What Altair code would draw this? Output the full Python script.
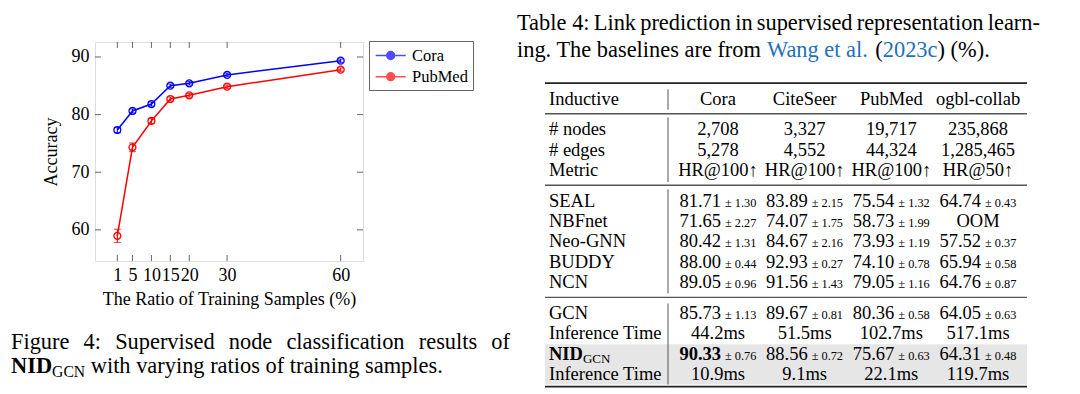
import altair as alt
import pandas as pd

# ------------------------------------------------------------------ data
ratios = [1, 5, 10, 15, 20, 30, 60]
series = ["Cora", "PubMed"]
cora_acc = [77.33, 80.63, 81.84, 85.02, 85.43, 86.88, 89.36]
cora_err = [0.45, 0.35, 0.35, 0.30, 0.30, 0.30, 0.30]
pubmed_acc = [58.96, 74.33, 78.90, 82.71, 83.35, 84.85, 87.80]
pubmed_err = [1.15, 0.75, 0.45, 0.35, 0.30, 0.30, 0.30]
x_ticks = [1, 5, 10, 15, 20, 30, 60]
y_ticks = [60, 70, 80, 90]
x_title = "The Ratio of Training Samples (%)"
y_title = "Accuracy"

table_head = "Inductive"
table_cols = ["Cora", "CiteSeer", "PubMed", "ogbl-collab"]
stat_rows = ["# nodes", "# edges", "Metric"]
stat_vals = [["2,708", "3,327", "19,717", "235,868"],
             ["5,278", "4,552", "44,324", "1,285,465"],
             ["HR@100↑", "HR@100↑", "HR@100↑", "HR@50↑"]]
base_rows = ["SEAL", "NBFnet", "Neo-GNN", "BUDDY", "NCN"]
base_mean = [["81.71", "83.89", "75.54", "64.74"],
             ["71.65", "74.07", "58.73", "OOM"],
             ["80.42", "84.67", "73.93", "57.52"],
             ["88.00", "92.93", "74.10", "65.94"],
             ["89.05", "91.56", "79.05", "64.76"]]
base_std = [["1.30", "2.15", "1.32", "0.43"],
            ["2.27", "1.75", "1.99", ""],
            ["1.31", "2.16", "1.19", "0.37"],
            ["0.44", "0.27", "0.78", "0.58"],
            ["0.96", "1.43", "1.16", "0.87"]]
gcn_label = "GCN"
gcn_mean = ["85.73", "89.67", "80.36", "64.05"]
gcn_std = ["1.13", "0.81", "0.58", "0.63"]
time_label = "Inference Time"
gcn_time = ["44.2ms", "51.5ms", "102.7ms", "517.1ms"]
nid_main, nid_sub = "NID", "GCN"
nid_mean = ["90.33", "88.56", "75.67", "64.31"]
nid_std = ["0.76", "0.72", "0.63", "0.48"]
nid_bold = [True, False, False, False]
nid_time = ["10.9ms", "9.1ms", "22.1ms", "119.7ms"]

table_caption_1 = "Table 4: Link prediction in supervised representation learn-"
table_caption_2 = [("ing. The baselines are from ", "black"), ("Wang et al.", "link"),
                   (" (", "black"), ("2023c", "link"), (") (%).", "black")]
fig_caption_1 = "Figure 4: Supervised node classification results of"
fig_caption_2 = " with varying ratios of training samples."

# ------------------------------------------------------------------ layout / style
FONT = "Liberation Serif"
OX, OY = 95, 42          # plot-area origin on the page
W, H = 268, 219          # plot-area size
BLUE, RED, FRAME = "#0000ff", "#ff0000", "#666666"
LINK = "#1f72b8"
CAP = 22.4               # caption font size
TF = 18.5                # table font size
TS = 12.3                # table std font size

TW = {" ": 250, "(": 333, ")": 333, ".": 250, ",": 250, ":": 278, "%": 833, "-": 333,
      "#": 500, "@": 921, "↑": 500}
for d in "0123456789":
    TW[d] = 500
TW.update(dict(zip("abcdefghijklmnopqrstuvwxyz",
                   [444, 500, 444, 500, 444, 333, 500, 500, 278, 278, 500, 278, 778, 500, 500,
                    500, 500, 333, 389, 278, 500, 500, 722, 500, 500, 444])))
TW.update(dict(zip("ABCDEFGHIJKLMNOPQRSTUVWXYZ",
                   [722, 667, 667, 722, 611, 556, 722, 722, 333, 389, 722, 611, 889, 722, 722,
                    556, 722, 667, 556, 611, 722, 722, 944, 722, 722, 611])))
TWB = {"N": 722, "I": 389, "D": 722}


def text_width(s, size, bold=False):
    tbl = TWB if bold else {}
    return sum(tbl.get(c, TW.get(c, 500)) for c in s) * size / 1000.0


# ------------------------------------------------------------------ plot
rows = []
for name, acc, err in (("Cora", cora_acc, cora_err), ("PubMed", pubmed_acc, pubmed_err)):
    for r, a, e in zip(ratios, acc, err):
        rows.append({"ratio": r, "acc": a, "err": e, "dataset": name})
plot_df = pd.DataFrame(rows)
xt_df = pd.DataFrame({"ratio": x_ticks})
yt_df = pd.DataFrame({"acc": y_ticks})

xs = alt.Scale(domain=[-4.9, 65.9], nice=False, zero=False)
ys = alt.Scale(domain=[54.6, 92.6], nice=False, zero=False)
x_axis = alt.Axis(values=x_ticks, format="d", ticks=False, tickSize=0, domain=False, grid=False,
                  labelFont=FONT, labelFontSize=18, labelColor="black", labelPadding=19,
                  labelBaseline="alphabetic", labelOverlap=False, labelFlush=False,
                  titleFont=FONT, titleFontSize=18, titleFontWeight="normal", titleColor="black",
                  titleX=W / 2, titleY=43, titleBaseline="alphabetic", titleAlign="center")
y_axis = alt.Axis(values=y_ticks, format="d", ticks=False, tickSize=0, domain=False, grid=False,
                  labelFont=FONT, labelFontSize=18, labelColor="black", labelPadding=6,
                  labelBaseline="middle", labelOverlap=False, labelFlush=False,
                  titleFont=FONT, titleFontSize=18, titleFontWeight="normal", titleColor="black",
                  titleAngle=270, titleX=-38.5, titleY=H / 2, titleBaseline="alphabetic",
                  titleAlign="center")


def X(field="ratio"):
    return alt.X(f"{field}:Q", scale=xs, axis=x_axis, title=x_title)


def Y(field="acc"):
    return alt.Y(f"{field}:Q", scale=ys, axis=y_axis, title=y_title)


# legend symbol: a 30px line with an open circle (units of 9px, shifted right)
SYMBOL = ("M-0.87,0L2.47,0M1.24,0A0.44,0.44,0,1,1,0.36,0A0.44,0.44,0,1,1,1.24,0")
legend = alt.Legend(title=None, orient="none", legendX=274, legendY=-1, strokeColor=FRAME,
                    fillColor="white", padding=4.5, symbolType=SYMBOL, symbolSize=324,
                    symbolStrokeWidth=1.4, symbolFillColor="transparent",
                    labelFont=FONT, labelFontSize=16.5, labelColor="black", labelOffset=18.5,
                    rowPadding=2.2)
color = alt.Color("dataset:N", scale=alt.Scale(domain=series, range=[BLUE, RED]), legend=legend)

base = alt.Chart(plot_df)
line = base.mark_line(strokeWidth=1.5).encode(x=X(), y=Y(), color=color)
pts = base.mark_point(filled=False, size=48, strokeWidth=1.3, opacity=1).encode(
    x=X(), y=Y(), color=color)
errs = base.transform_calculate(lo="datum.acc - datum.err", hi="datum.acc + datum.err").mark_errorbar(
    ticks={"size": 7, "thickness": 1.1}, thickness=1.1).encode(
    x=X(), y=alt.Y("lo:Q", scale=ys, axis=y_axis, title=y_title), y2="hi:Q", color=color)

tick_x_bot = alt.Chart(xt_df).mark_rule(color=FRAME, strokeWidth=1).encode(
    x=X(), y=alt.value(H), y2=alt.value(H - 6))
tick_x_top = alt.Chart(xt_df).mark_rule(color=FRAME, strokeWidth=1).encode(
    x=X(), y=alt.value(0), y2=alt.value(6))
tick_y_left = alt.Chart(yt_df).mark_rule(color=FRAME, strokeWidth=1).encode(
    y=Y(), x=alt.value(0), x2=alt.value(6))
tick_y_right = alt.Chart(yt_df).mark_rule(color=FRAME, strokeWidth=1).encode(
    y=Y(), x=alt.value(W), x2=alt.value(W - 6))

plot = alt.layer(tick_x_bot, tick_x_top, tick_y_left, tick_y_right, line, errs, pts)

# ------------------------------------------------------------------ table
ROW0_Y, ROW_H = 98.5, 20.4
S_STAT, S_BASE, S_OURS = 1.5, 5.0, 10.5
ty = alt.Scale(domain=[0, 13.5], range=[ROW0_Y - OY, ROW0_Y + ROW_H * 13.5 - OY],
               nice=False, zero=False)
tx = alt.Scale(type="point", domain=table_cols, range=[718 - OX, 978 - OX], padding=0)
T_LEFT, T_RIGHT, T_LABEL, T_SEP = 545 - OX, 1027 - OX, 549 - OX, 668 - OX
DY = 0.33 * TF

cells, labels = [], []
labels.append({"slot": 0, "text": table_head})
for c in table_cols:
    cells.append({"slot": 0, "col": c, "text": c, "part": "c"})
for i, (lab, vals) in enumerate(zip(stat_rows, stat_vals)):
    labels.append({"slot": S_STAT + i, "text": lab})
    for c, v in zip(table_cols, vals):
        cells.append({"slot": S_STAT + i, "col": c, "text": v, "part": "c"})


def add_scores(slot, means, stds, bold=None):
    for j, (c, m, s) in enumerate(zip(table_cols, means, stds)):
        if not s:
            cells.append({"slot": slot, "col": c, "text": m, "part": "c"})
        else:
            part = "mb" if (bold and bold[j]) else "m"
            cells.append({"slot": slot, "col": c, "text": m, "part": part})
            cells.append({"slot": slot, "col": c, "text": "± " + s, "part": "s"})


for i, (lab, ms, ss) in enumerate(zip(base_rows, base_mean, base_std)):
    labels.append({"slot": S_BASE + i, "text": lab})
    add_scores(S_BASE + i, ms, ss)
labels.append({"slot": S_OURS, "text": gcn_label})
add_scores(S_OURS, gcn_mean, gcn_std)
labels.append({"slot": S_OURS + 1, "text": time_label})
for c, v in zip(table_cols, gcn_time):
    cells.append({"slot": S_OURS + 1, "col": c, "text": v, "part": "c"})
add_scores(S_OURS + 2, nid_mean, nid_std, nid_bold)
labels.append({"slot": S_OURS + 3, "text": time_label})
for c, v in zip(table_cols, nid_time):
    cells.append({"slot": S_OURS + 3, "col": c, "text": v, "part": "c"})

cells_df = pd.DataFrame(cells)
labels_df = pd.DataFrame(labels)
nid_df = pd.DataFrame({"slot": [S_OURS + 2]})

TY = alt.Y("slot:Q", scale=ty, axis=None)
TX = alt.X("col:N", scale=tx, axis=None)

band = alt.Chart(pd.DataFrame({"s0": [S_OURS + 1.55], "s1": [S_OURS + 3.52]})).mark_rect(
    color="#e6e6e6").encode(x=alt.value(T_LEFT), x2=alt.value(T_RIGHT),
                            y=alt.Y("s0:Q", scale=ty, axis=None), y2="s1:Q")
heavy = alt.Chart(pd.DataFrame({"slot": [-0.75, S_OURS + 3.62]})).mark_rule(
    color="#222222", strokeWidth=1.7).encode(y=TY, x=alt.value(T_LEFT), x2=alt.value(T_RIGHT))
light = alt.Chart(pd.DataFrame({"slot": [0.75, S_BASE - 0.75, S_OURS - 0.75]})).mark_rule(
    color="#555555", strokeWidth=1.4).encode(y=TY, x=alt.value(T_LEFT), x2=alt.value(T_RIGHT))
vsep = alt.Chart(pd.DataFrame({"s0": [-0.45, 0.92, S_BASE - 0.55, S_OURS - 0.45],
                               "s1": [0.55, S_STAT + 2.6, S_BASE + 4.55, S_OURS + 3.52]})).mark_rule(
    color="#555555", strokeWidth=1).encode(x=alt.value(T_SEP),
                                          y=alt.Y("s0:Q", scale=ty, axis=None), y2="s1:Q")

ctext = dict(font=FONT, color="black", baseline="alphabetic", dy=DY)
t_center = alt.Chart(cells_df).transform_filter("datum.part == 'c'").mark_text(
    align="center", fontSize=TF, **ctext).encode(x=TX, y=TY, text="text:N")
t_mean = alt.Chart(cells_df).transform_filter("datum.part == 'm'").mark_text(
    align="right", dx=3, fontSize=TF, **ctext).encode(x=TX, y=TY, text="text:N")
t_meanb = alt.Chart(cells_df).transform_filter("datum.part == 'mb'").mark_text(
    align="right", dx=3, fontSize=TF, fontWeight="bold", **ctext).encode(x=TX, y=TY, text="text:N")
t_std = alt.Chart(cells_df).transform_filter("datum.part == 's'").mark_text(
    align="left", dx=7, fontSize=TS, **ctext).encode(x=TX, y=TY, text="text:N")
t_label = alt.Chart(labels_df).mark_text(align="left", fontSize=TF, **ctext).encode(
    x=alt.value(T_LABEL), y=TY, text="text:N")
t_nid = alt.Chart(nid_df).mark_text(align="left", fontSize=TF, fontWeight="bold", text=nid_main,
                                    **ctext).encode(x=alt.value(T_LABEL), y=TY)
t_nid_sub = alt.Chart(nid_df).mark_text(align="left", fontSize=13, text=nid_sub, font=FONT,
                                        color="black", baseline="alphabetic", dy=DY + 3).encode(
    x=alt.value(T_LABEL + text_width(nid_main, TF, bold=True)), y=TY)

table = alt.layer(band, heavy, light, vsep, t_center, t_mean, t_meanb, t_std, t_label,
                  t_nid, t_nid_sub)

# ------------------------------------------------------------------ captions
caps = []


def cap_add(text, x, yc, size=CAP, col="black", bold=False, drop=0.0):
    lead = len(text) - len(text.lstrip(" "))
    x += lead * text_width(" ", size)
    caps.append({"x": x - OX, "y": yc + 0.33 * CAP + drop - OY, "text": text.strip(" "),
                 "size": size, "color": LINK if col == "link" else col, "bold": bold})


def justify(line, x0, x1, yc):
    words = line.split(" ")
    widths = [text_width(w, CAP) for w in words]
    gap = (x1 - x0 - sum(widths)) / (len(words) - 1)
    x = x0
    for w, wd in zip(words, widths):
        cap_add(w, x, yc)
        x += wd + gap


justify(table_caption_1, 517, 1040, 23)
x = 517
for t, c in table_caption_2:
    cap_add(t, x, 50, col=c)
    x += text_width(t, CAP)

justify(fig_caption_1, 11, 510, 342)
x = 11
cap_add(nid_main, x, 366, bold=True)
x += text_width(nid_main, CAP, bold=True)
cap_add(nid_sub, x, 366, size=0.7 * CAP, drop=3.5)
x += text_width(nid_sub, 0.7 * CAP)
cap_add(fig_caption_2, x, 366)
cap_df = pd.DataFrame(caps)

cap_enc = dict(x=alt.X("x:Q", scale=None, axis=None), y=alt.Y("y:Q", scale=None, axis=None),
               text="text:N", size=alt.Size("size:Q", scale=None, legend=None),
               color=alt.Color("color:N", scale=None, legend=None))
cap_reg = alt.Chart(cap_df).transform_filter("!datum.bold").mark_text(
    align="left", baseline="alphabetic", font=FONT).encode(**cap_enc)
cap_bold = alt.Chart(cap_df).transform_filter("datum.bold").mark_text(
    align="left", baseline="alphabetic", font=FONT, fontWeight="bold").encode(**cap_enc)
captions = alt.layer(cap_reg, cap_bold)

# ------------------------------------------------------------------ assemble
TOTAL_W, TOTAL_H = 1062, 385
chart = alt.layer(plot, table, captions).resolve_scale(
    x="independent", y="independent", color="independent", size="independent"
).properties(
    width=W, height=H,
    autosize=alt.AutoSizeParams(type="none"),
    padding={"left": OX - 8, "top": OY - 8, "right": TOTAL_W - (OX - 8) - W,
             "bottom": TOTAL_H - (OY - 8) - H},
    background="white",
).configure_view(stroke=FRAME, strokeWidth=1.2).configure(font=FONT)

chart.save("out.html", embed_options={"renderer": "svg", "actions": False})
